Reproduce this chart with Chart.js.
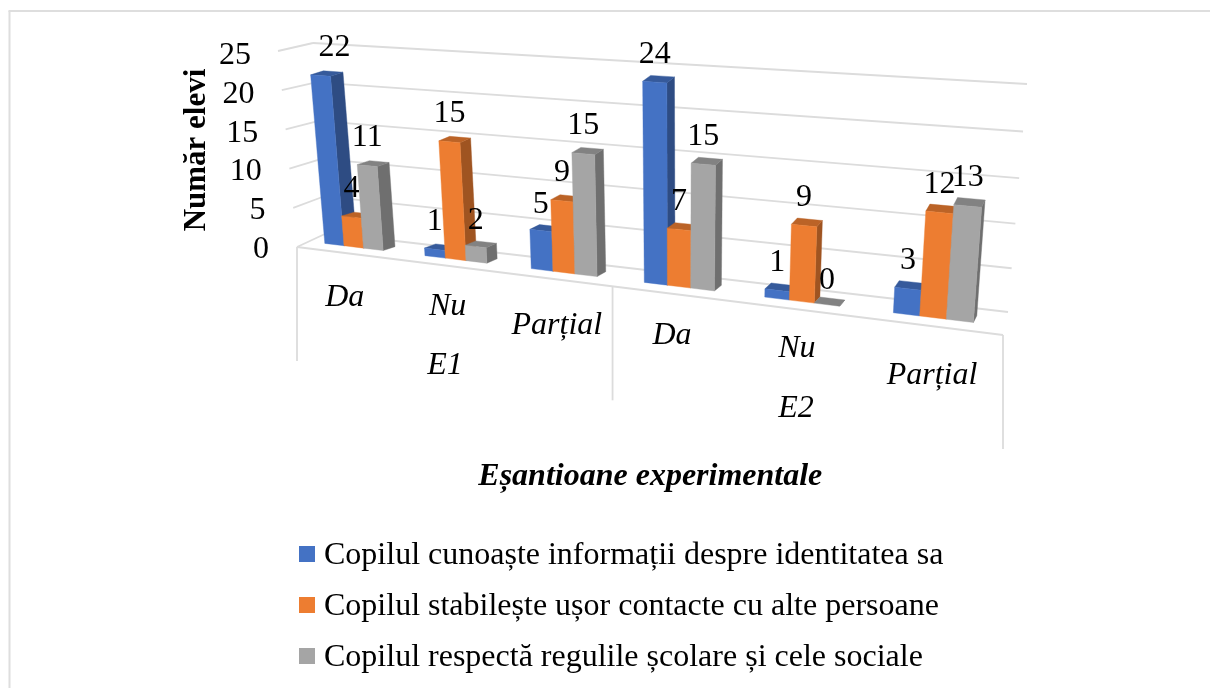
<!DOCTYPE html>
<html><head><meta charset="utf-8">
<style>html,body{margin:0;padding:0;background:#fff;overflow:hidden}canvas{display:block}</style>
<script src="https://cdn.jsdelivr.net/npm/chart.js@4/dist/chart.umd.js"></script>
</head><body>
<div style="width:1210px;height:688px"><canvas id="c" width="1210" height="688"></canvas></div>
<script>
const categories = ['Da','Nu','Parțial','Da','Nu','Parțial'];
const groups = ['E1','E2'];
const identitate = [22,1,5,24,1,3];
const contacte = [4,15,9,7,9,12];
const reguli = [11,2,15,15,0,13];
const seriesNames = ['Copilul cunoaște informații despre identitatea sa','Copilul stabilește ușor contacte cu alte persoane','Copilul respectă regulile școlare și cele sociale'];
const seriesColors = ['#4472C4','#ED7D31','#A5A5A5'];
const yTitle = 'Număr elevi';
const xTitle = 'Eșantioane experimentale';

const FONT = '"Liberation Serif"';
function quad(a,b,c,d){ // a=(0,0) b=(1,0) c=(1,1) d=(0,1)
  const dx1=b[0]-c[0],dx2=d[0]-c[0],sx=a[0]-b[0]+c[0]-d[0];
  const dy1=b[1]-c[1],dy2=d[1]-c[1],sy=a[1]-b[1]+c[1]-d[1];
  const den=dx1*dy2-dx2*dy1;
  const g=(sx*dy2-dx2*sy)/den,h=(dx1*sy-sx*dy1)/den;
  return (u,v)=>{
    const w=1+g*u+h*v;
    return [((b[0]-a[0]+g*b[0])*u+(d[0]-a[0]+h*d[0])*v+a[0])/w,
            ((b[1]-a[1]+g*b[1])*u+(d[1]-a[1]+h*d[1])*v+a[1])/w];
  };
}
const front = quad([305,241],[1002,326],[1020,97],[288,49.5]);
const rear  = quad([318,237.5],[1005,319],[1023,89],[301,45.5]);
const wall  = quad([327,233],[1008,312],[1027,84],[313,43]);
const floorL=[297,247], floorR=[1003,335], wallTop=[278,51];
const lerp=(p,q,t)=>[p[0]+(q[0]-p[0])*t,p[1]+(q[1]-p[1])*t];
const shade=(hex,k)=>{const n=parseInt(hex.slice(1),16);return `rgb(${Math.round((n>>16)*k)},${Math.round(((n>>8)&255)*k)},${Math.round((n&255)*k)})`;};
function poly(ctx,pts,fill){ctx.beginPath();pts.forEach((p,i)=>i?ctx.lineTo(p[0],p[1]):ctx.moveTo(p[0],p[1]));ctx.closePath();ctx.fillStyle=fill;ctx.fill();ctx.strokeStyle=fill;ctx.lineWidth=0.4;ctx.stroke();}
function seg(ctx,p,q){ctx.beginPath();ctx.moveTo(p[0],p[1]);ctx.lineTo(q[0],q[1]);ctx.stroke();}
function swatch(color){const s=document.createElement('canvas');s.width=16;s.height=20;const x=s.getContext('2d');x.fillStyle=color;x.fillRect(0,0,16,16);return s;}

const catNudge=[[-9,51],[-8,47],[-7,53],[-7,49],[-5,47],[-1,58]];
const groupSpot=[[445,366],[796,409]];
const labelNudge={'0:0':[14,0],'0:2':[0,2],'2:1':[0,2],'2:4':[0,4]};

const scene={
  id:'scene',
  beforeDraw(chart){
    const {ctx,legend}=chart;
    legend.left=287;legend.top=521;legend.right=1200;legend.bottom=3000;
    ctx.save();
    ctx.strokeStyle='#dedede';ctx.lineWidth=2;
    seg(ctx,[9.5,688],[9.5,11]);seg(ctx,[8.5,11],[1210,11]);
    ctx.restore();
  },
  beforeDatasetsDraw(chart){
    const {ctx,chartArea:ca,scales:{x,y}}=chart;
    const V=p=>(ca.bottom-p)/ca.height;
    ctx.save();
    ctx.strokeStyle='#dcdcdc';ctx.lineWidth=1.8;
    y.ticks.forEach(t=>{
      const v=V(y.getPixelForValue(t.value));
      const l=wall(0,v),r=wall(1,v),f=lerp(floorL,wallTop,v);
      seg(ctx,f,l);seg(ctx,l,r);
    });
    seg(ctx,floorL,floorR);
    const step=x.getPixelForValue(1)-x.getPixelForValue(0);
    [[0,-8],[3,-8],[6,1]].forEach(([i,nudge])=>{
      const px=x.getPixelForValue(0)-step/2+i*step;
      const xp=front((px-ca.left)/ca.width,0)[0]+nudge;
      const t=(xp-floorL[0])/(floorR[0]-floorL[0]);
      const top=lerp(floorL,floorR,t);
      seg(ctx,top,[top[0],top[1]+114]);
    });
    ctx.fillStyle='#000';ctx.textBaseline='middle';ctx.textAlign='center';
    ctx.font='32px '+FONT;
    y.ticks.forEach(t=>{
      const py=y.getPixelForValue(t.value),v=V(py);
      const w=ctx.measureText(String(t.value)).width;
      ctx.fillText(String(t.value),269-18*v-w/2,py+2.5);
    });
    ctx.font='italic 32px '+FONT;
    categories.forEach((c,i)=>{
      const p=front((x.getPixelForValue(i)-ca.left)/ca.width,0);
      ctx.fillText(c,p[0]+catNudge[i][0],p[1]+catNudge[i][1]);
    });
    groups.forEach((g,i)=>ctx.fillText(g,groupSpot[i][0],groupSpot[i][1]));
    ctx.restore();
  },
  beforeDatasetDraw(){return false;},
  afterDatasetsDraw(chart){
    const {ctx,chartArea:ca}=chart;
    const U=p=>(p-ca.left)/ca.width,V=p=>(ca.bottom-p)/ca.height;
    const labels=[];
    ctx.save();
    chart.data.datasets.forEach((ds,di)=>{
      const col=ds.backgroundColor;
      chart.getDatasetMeta(di).data.forEach((el,i)=>{
        const l=U(el.x-el.width/2),r=U(el.x+el.width/2),b=V(el.base),t=V(el.y);
        poly(ctx,[front(r,b),front(r,t),rear(r,t),rear(r,b)],shade(col,0.67));
        poly(ctx,[front(l,t),front(r,t),rear(r,t),rear(l,t)],shade(col,0.79));
        if(t>b) poly(ctx,[front(l,b),front(r,b),front(r,t),front(l,t)],col);
        const p=front(U(el.x),t);
        const n=labelNudge[di+':'+i]||[0,0];
        labels.push([ds.data[i],p[0]+n[0],p[1]-28+n[1]]);
      });
    });
    ctx.fillStyle='#000';ctx.font='32px '+FONT;ctx.textAlign='center';ctx.textBaseline='middle';
    labels.forEach(([s,a,c])=>ctx.fillText(String(s),a,c));
    ctx.restore();
  }
};

new Chart(document.getElementById('c'),{
  type:'bar',
  data:{labels:categories,datasets:[identitate,contacte,reguli].map((d,i)=>({label:seriesNames[i],data:d,backgroundColor:seriesColors[i],categoryPercentage:0.59,barPercentage:1}))},
  options:{
    responsive:false,animation:false,
    layout:{padding:{left:174,right:136.6,top:53,bottom:188}},
    scales:{
      x:{grid:{display:false},border:{display:false},ticks:{display:false},
         title:{display:true,text:xTitle,color:'#000',font:{family:FONT,size:32,style:'italic',weight:'bold'},padding:{top:210,bottom:4}},
         afterFit(s){s.height=253;}},
      y:{min:0,max:25,grid:{display:false},border:{display:false},ticks:{display:false,stepSize:5},
         title:{display:true,text:yTitle,color:'#000',font:{family:FONT,size:31,weight:'bold'},padding:4}}
    },
    plugins:{
      tooltip:{enabled:false},
      legend:{position:'chartArea',align:'start',
        labels:{color:'#000',font:{family:FONT,size:32},padding:19,usePointStyle:true,pointStyleWidth:2,boxHeight:16,
          sort:(a,b)=>a.datasetIndex-b.datasetIndex,
          generateLabels(c){return Chart.defaults.plugins.legend.labels.generateLabels(c).map(it=>Object.assign(it,{pointStyle:swatch(seriesColors[it.datasetIndex])}));}
        }}
    }
  },
  plugins:[scene]
});
</script>
</body></html>
